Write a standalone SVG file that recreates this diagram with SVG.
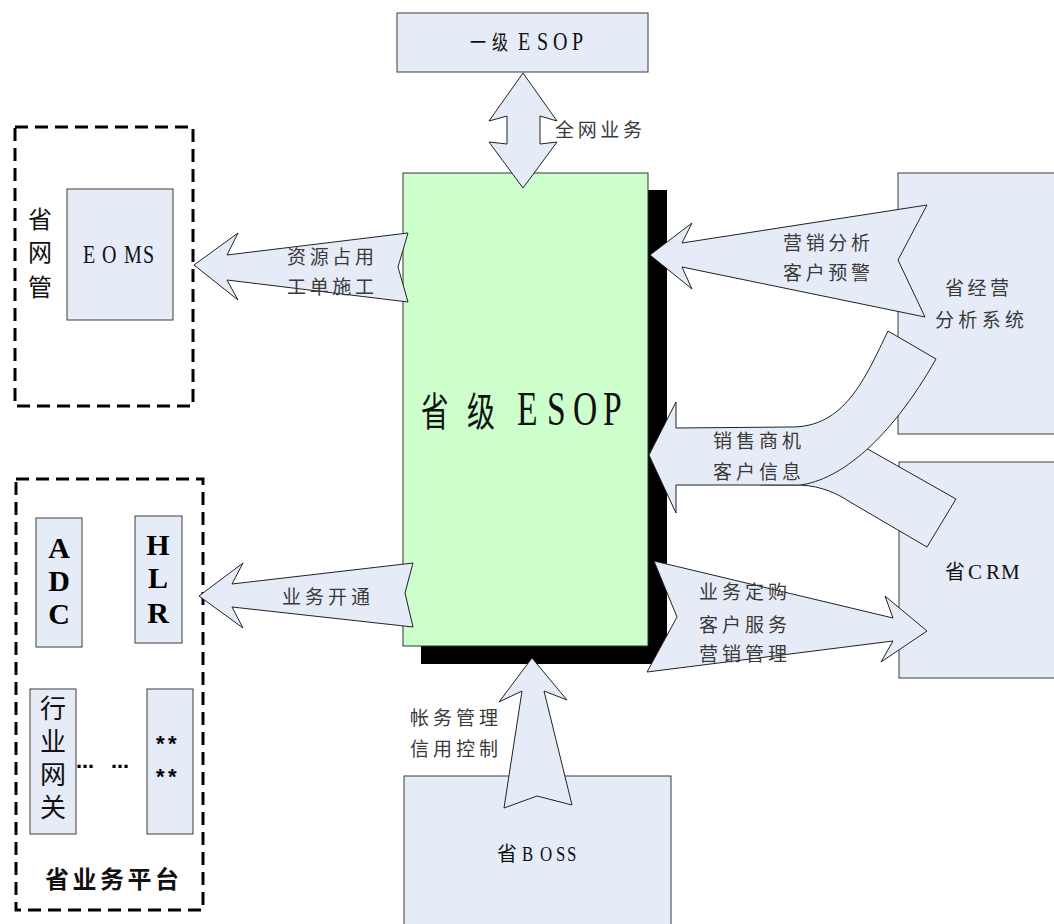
<svg xmlns="http://www.w3.org/2000/svg" width="1054" height="924" viewBox="0 0 1054 924">
<defs>
<style>
.box{fill:#E6ECF7;stroke:#3c3c3c;stroke-width:1}
.arrow{fill:#E6ECF7;stroke:#222;stroke-width:1;stroke-linejoin:miter}
.dash{fill:none;stroke:#000;stroke-width:3;stroke-dasharray:13 7}
.lbl{font-family:"Noto Sans CJK SC",sans-serif;font-size:19px;fill:#3a3a3a}
.ser{font-family:"Liberation Serif","Noto Sans CJK SC",serif;fill:#111}
.cjk{font-family:"Noto Sans CJK SC",sans-serif;fill:#111}
.bold{font-family:"Liberation Serif",serif;font-weight:bold;font-size:30px;fill:#000}
</style>
</defs>
<rect width="1054" height="924" fill="#fff"/>
<g id="nodes">
  <g id="node-top-esop">
    <rect class="box" x="397" y="13" width="251" height="59"/>
    <text class="ser" transform="scale(0.8,1)"><tspan x="587.5" y="50" font-size="20">一</tspan><tspan x="615" y="50" font-size="20">级</tspan><tspan x="647.5 671.25 691.25 715" y="50" font-size="25">ESOP</tspan></text>
  </g>
  <g id="node-prov-esop">
    <rect x="421" y="190" width="246" height="474" fill="#000"/>
    <rect x="403" y="173" width="245" height="473" fill="#CCFFCC" stroke="#333" stroke-width="1"/>
    <text class="ser" transform="scale(0.7,1)"><tspan x="601" y="426" font-size="40">省</tspan><tspan x="667" y="426" font-size="40">级</tspan><tspan x="738.6 781.4 818.6 861.4" y="425" font-size="48">ESOP</tspan></text>
  </g>
  <g id="node-eoms">
    <rect class="dash" x="15" y="127" width="178" height="279"/>
    <rect class="box" x="67" y="189" width="106" height="131"/>
    <text class="ser" font-size="25" transform="scale(0.8,1)" x="103.75 127.5 155 178.75" y="263">EOMS</text>
    <text class="cjk" font-size="24" fill="#222"><tspan x="28" y="228">省</tspan><tspan x="28" y="261">网</tspan><tspan x="28" y="296">管</tspan></text>
  </g>
  <g id="node-platform">
    <rect class="dash" x="16" y="479" width="187" height="431"/>
    <rect class="box" x="36" y="518" width="46" height="129"/>
    <rect class="box" x="135" y="516" width="47" height="127"/>
    <rect class="box" x="30" y="689" width="46" height="145"/>
    <rect class="box" x="147" y="689" width="46" height="145"/>
    <text class="bold" text-anchor="middle"><tspan x="59" y="558">A</tspan><tspan x="59" y="591">D</tspan><tspan x="59" y="624">C</tspan></text>
    <text class="bold" text-anchor="middle"><tspan x="158" y="555">H</tspan><tspan x="158" y="588">L</tspan><tspan x="158" y="623">R</tspan></text>
    <text class="cjk" font-size="26" writing-mode="vertical-rl" letter-spacing="7" x="53" y="695">行业网关</text>
    <text font-family="Liberation Sans,sans-serif" font-weight="bold" font-size="22"><tspan x="156 168" y="751">**</tspan><tspan x="156 168" y="784">**</tspan></text>
    <text font-family="DejaVu Sans,sans-serif" font-weight="bold" font-size="18"><tspan x="76" y="768">…</tspan><tspan x="111" y="768">…</tspan></text>
    <text class="cjk" font-size="24" font-weight="bold" x="45 72.5 100 127.5 155" y="888">省业务平台</text>
  </g>
  <g id="node-analysis">
    <rect class="box" x="898" y="173" width="160" height="261"/>
    <text class="lbl" x="945 967.5 990" y="295">省经营</text>
    <text class="lbl" x="935 958.3 981.7 1005" y="327">分析系统</text>
  </g>
  <g id="node-crm">
    <rect class="box" x="899" y="462" width="160" height="216"/>
    <text class="ser" font-size="21"><tspan x="945" y="579" font-size="20">省</tspan><tspan x="968 986 1001" y="579" transform="scale(0.75,1)">CRM</tspan></text>
  </g>
  <g id="node-boss">
    <rect class="box" x="404" y="776" width="267" height="160"/>
    <text class="ser" font-size="20" x="497" y="861">省</text>
    <text class="ser" font-size="21" transform="scale(0.8,1)" x="652.5 675 695 708.75" y="861">BOSS</text>
  </g>
</g>
<g id="connectors">
  <polygon class="arrow" points="523,73 489,121 507,116 507,144 489,142 523,188 557,142 540,144 540,116 557,121"/>
  <polygon class="arrow" points="194,265 238,233 227,255 408,233 398,267 408,302 227,280 238,300"/>
  <polygon class="arrow" points="199,596 243,563 232,584 413,563 405,593 413,627 232,607 243,628"/>
  <polygon class="arrow" points="650,255 692,223 682,243 927,205 898,260 925,317 682,267 692,289"/>
  <path class="arrow" d="M956,499 L850,439 L760,445 L760,485 L800,485 C822,486 838,494 850,502 L927,547 Z"/>
  <path class="arrow" d="M888,331 C865,378 845,428 790,427 L676,428 L676,402 L649,455 L676,513 L676,485 L800,485 C840,480 890,440 936,359 Z"/>
  <polygon class="arrow" points="654,561 893,618 885,596 927,631 881,662 893,641 647,672 677,617"/>
  <polygon class="arrow" points="532,658 567,700 544,691 572,805 537,796 504,808 522,691 499,702"/>
  <text class="lbl" x="555 577.7 600.3 623" y="137">全网业务</text>
  <text class="lbl" x="287 309.7 332.3 355" y="264">资源占用</text>
  <text class="lbl" x="287 309.7 332.3 355" y="294">工单施工</text>
  <text class="lbl" x="282 305 328 351" y="604">业务开通</text>
  <text class="lbl" x="783 805.7 828.3 851" y="250">营销分析</text>
  <text class="lbl" x="783 805.7 828.3 851" y="280">客户预警</text>
  <text class="lbl" x="713 736 759 782" y="448">销售商机</text>
  <text class="lbl" x="713 736 759 782" y="479">客户信息</text>
  <text class="lbl" x="699 722 745 768" y="599">业务定购</text>
  <text class="lbl" x="699 722 745 768" y="632">客户服务</text>
  <text class="lbl" x="699 722 745 768" y="661">营销管理</text>
  <text class="lbl" x="410 433 456 479" y="725">帐务管理</text>
  <text class="lbl" x="410 433 456 479" y="756">信用控制</text>
</g>
</svg>
